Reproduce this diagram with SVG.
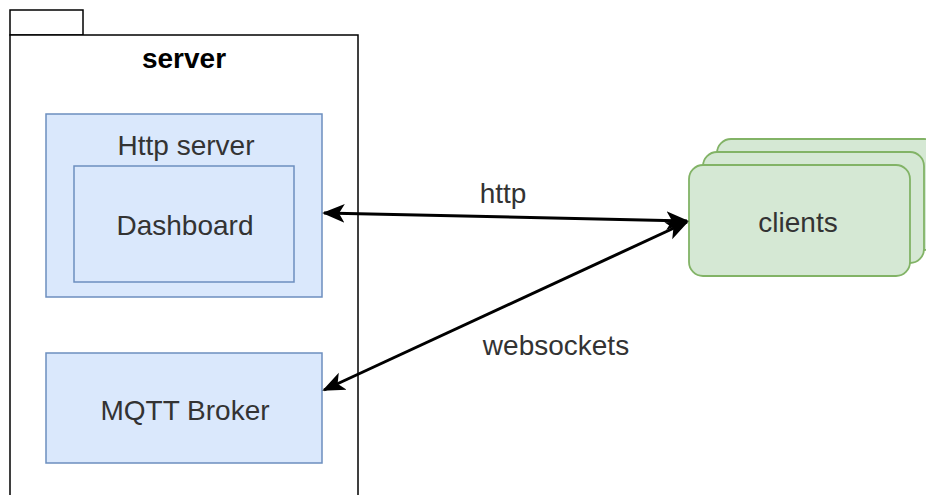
<svg xmlns="http://www.w3.org/2000/svg" width="926" height="495" viewBox="0 0 926 495">
<style>
.t{font-family:"Liberation Sans",Arial,sans-serif;font-size:28px;fill:#333333;text-anchor:middle}
.blue{fill:#dae8fc;stroke:#6c8ebf;stroke-width:1.5}
.green{fill:#d5e8d4;stroke:#82b366;stroke-width:1.8}
.edge{fill:none;stroke:#000;stroke-width:3}
</style>
<defs>
<marker id="ah" viewBox="0 0 12 10" refX="11" refY="5" markerWidth="7.5" markerHeight="7" orient="auto-start-reverse" markerUnits="strokeWidth">
<path d="M0,0 L12,5 L0,10 L3,5 Z" fill="#000"/>
</marker>
</defs>
<rect width="926" height="495" fill="#fff"/>
<g id="server">
<rect x="10" y="10" width="73" height="25" fill="#fff" stroke="#000" stroke-width="1.5"/>
<rect x="10" y="35" width="348" height="470" fill="#fff" stroke="#000" stroke-width="1.5"/>
<text x="184" y="68" class="t" style="font-weight:bold;fill:#000">server</text>
</g>
<g id="http-server">
<rect x="46" y="114" width="276" height="183" class="blue"/>
<text x="186" y="155" class="t">Http server</text>
</g>
<g id="dashboard">
<rect x="74" y="166" width="220" height="116" class="blue"/>
<text x="185" y="235" class="t">Dashboard</text>
</g>
<g id="mqtt">
<rect x="46" y="353" width="276" height="110" class="blue"/>
<text x="185" y="420" class="t">MQTT Broker</text>
</g>
<g id="clients">
<rect x="717" y="139" width="221" height="111" rx="14" class="green"/>
<rect x="703" y="152" width="221" height="111" rx="14" class="green"/>
<rect x="689" y="165" width="221" height="111" rx="14" class="green"/>
<text x="798" y="232" class="t">clients</text>
</g>
<g id="connectors">
<line x1="324" y1="213" x2="687" y2="221" class="edge" marker-start="url(#ah)" marker-end="url(#ah)"/>
<line x1="687" y1="222" x2="324" y2="390" class="edge" marker-start="url(#ah)" marker-end="url(#ah)"/>
<text x="503" y="203" class="t">http</text>
<text x="556" y="355" class="t">websockets</text>
</g>
</svg>
